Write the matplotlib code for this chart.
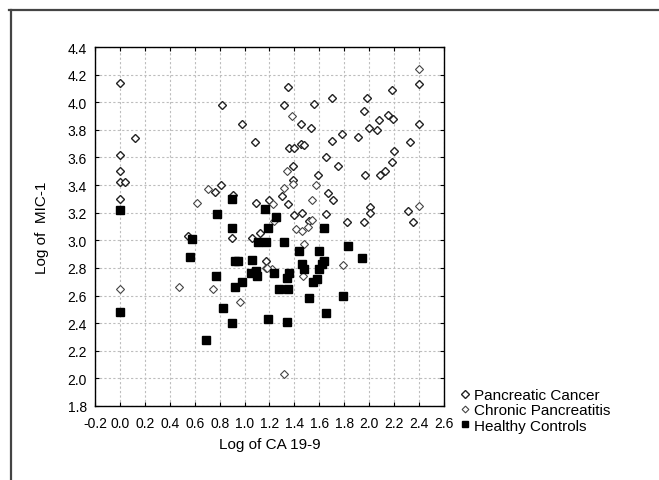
import matplotlib
matplotlib.use("Agg")
import matplotlib.pyplot as plt
from matplotlib.lines import Line2D

plt.rcParams['font.family'] = ['Liberation Sans', 'DejaVu Sans']

# Pancreatic Cancer (log CA 19-9, log MIC-1)
cancer_x = [0.00, 0.82, 0.98, 0.12, 1.08, 0.00, 0.00, 0.00, 0.04, 0.00, 0.76, 0.81, 0.91, 1.09,
            2.40, 1.35, 2.18, 1.70, 1.98, 1.32, 1.56, 1.96, 2.15, 2.19, 2.08, 1.45, 1.53, 2.00,
            2.06, 2.40, 1.78, 1.70, 1.91, 2.33, 2.20, 1.36, 1.40, 1.45, 1.48, 1.65, 1.75, 2.18,
            1.39, 1.97, 2.13, 2.09, 1.59, 1.39, 1.20, 1.30, 1.35, 1.67, 1.71, 1.40, 1.46, 1.52,
            1.65, 1.82, 1.96, 2.01, 2.01, 2.31, 2.35, 0.90, 1.06, 1.12, 1.17, 0.55]
cancer_y = [4.14, 3.98, 3.84, 3.74, 3.71, 3.62, 3.50, 3.42, 3.42, 3.30, 3.35, 3.40, 3.33, 3.27,
            4.13, 4.11, 4.09, 4.03, 4.03, 3.98, 3.99, 3.94, 3.91, 3.88, 3.87, 3.84, 3.81, 3.81,
            3.80, 3.84, 3.77, 3.72, 3.75, 3.71, 3.65, 3.67, 3.67, 3.70, 3.69, 3.60, 3.54, 3.57,
            3.54, 3.47, 3.50, 3.47, 3.47, 3.44, 3.29, 3.32, 3.26, 3.34, 3.29, 3.18, 3.20, 3.14,
            3.19, 3.13, 3.13, 3.24, 3.20, 3.21, 3.13, 3.02, 3.02, 3.05, 2.85, 3.03]

# Chronic Pancreatitis
chronic_x = [0.00, 0.47, 0.75, 0.96, 0.62, 0.71, 1.32, 1.79, 1.47, 1.17, 1.22, 1.41, 1.46,
             1.51, 1.54, 1.34, 1.32, 1.38, 2.40, 1.48, 1.24, 1.57, 1.39, 1.23, 1.54, 1.18, 2.40]
chronic_y = [2.65, 2.66, 2.65, 2.55, 3.27, 3.37, 2.03, 2.82, 2.74, 2.80, 2.79, 3.08, 3.07,
             3.10, 3.29, 3.50, 3.38, 3.90, 4.24, 2.97, 3.14, 3.40, 3.41, 3.26, 3.15, 2.80, 3.25]

# Healthy Controls
healthy_x = [0.00, 0.00, 0.58, 0.56, 0.78, 0.77, 0.69, 0.83, 0.90, 0.90, 0.90, 0.92, 0.95,
             0.98, 0.92, 1.06, 1.05, 1.09, 1.10, 1.11, 1.17, 1.19, 1.16, 1.25, 1.19, 1.24,
             1.28, 1.32, 1.34, 1.36, 1.35, 1.34, 1.44, 1.46, 1.48, 1.52, 1.55, 1.58, 1.60,
             1.60, 1.62, 1.64, 1.64, 1.65, 1.79, 1.83, 1.94]
healthy_y = [3.22, 2.48, 3.01, 2.88, 3.19, 2.74, 2.28, 2.51, 2.40, 3.30, 3.09, 2.85, 2.85,
             2.70, 2.66, 2.86, 2.76, 2.78, 2.74, 2.99, 2.99, 3.09, 3.23, 3.17, 2.43, 2.76,
             2.65, 2.99, 2.73, 2.76, 2.65, 2.41, 2.92, 2.83, 2.79, 2.58, 2.70, 2.72, 2.79,
             2.92, 2.83, 2.85, 3.09, 2.47, 2.60, 2.96, 2.87]

x_ticks = [-0.2, 0.0, 0.2, 0.4, 0.6, 0.8, 1.0, 1.2, 1.4, 1.6, 1.8, 2.0, 2.2, 2.4, 2.6]
y_ticks = [1.8, 2.0, 2.2, 2.4, 2.6, 2.8, 3.0, 3.2, 3.4, 3.6, 3.8, 4.0, 4.2, 4.4]

fig = plt.figure(figsize=(6.59, 4.81), dpi=100)
ax = fig.add_axes([95/659, 1 - 407/481, 349/659, 359/481])

ax.plot(cancer_x, cancer_y, linestyle='none', marker='D', markersize=4.4,
        markerfacecolor='white', markeredgecolor='#222222', markeredgewidth=1.0,
        label='Pancreatic Cancer', zorder=3)
ax.plot(chronic_x, chronic_y, linestyle='none', marker='D', markersize=3.8,
        markerfacecolor='white', markeredgecolor='#444444', markeredgewidth=0.8,
        label='Chronic Pancreatitis', zorder=3)
ax.plot(healthy_x, healthy_y, linestyle='none', marker='s', markersize=5.2,
        markerfacecolor='black', markeredgecolor='black',
        label='Healthy Controls', zorder=4)

ax.set_xlim(-0.2, 2.6)
ax.set_ylim(1.8, 4.4)
ax.set_xticks(x_ticks)
ax.set_yticks(y_ticks)
ax.set_xticklabels([f"{v:.1f}" for v in x_ticks])
ax.set_yticklabels([f"{v:.1f}" for v in y_ticks])
ax.tick_params(direction='in', length=3, width=0.8, labelsize=10,
               top=True, right=True)
ax.tick_params(axis='x', pad=7)
ax.tick_params(axis='y', pad=6)
ax.grid(True, color='#bdbdbd', linestyle=(0, (2, 2)), linewidth=0.8)
ax.set_axisbelow(True)
for s in ax.spines.values():
    s.set_linewidth(1.0)
    s.set_color('black')

ax.set_xlabel('Log of CA 19-9', fontsize=11, labelpad=5)
ax.set_ylabel('Log of  MIC-1', fontsize=11, labelpad=13)

leg = ax.legend(loc='upper left', bbox_to_anchor=(450/659, 1 - 380/481),
                bbox_transform=fig.transFigure, frameon=False, fontsize=11,
                handlelength=0.7, handletextpad=0.3, labelspacing=0.08,
                borderpad=0.1, markerscale=0.9)

# outer frame lines
fig.add_artist(Line2D([9/659, 1.0], [1 - 11/481, 1 - 11/481], color='#444444',
                      linewidth=1.6, transform=fig.transFigure))
fig.add_artist(Line2D([11/659, 11/659], [1 - 11/481, 0.0], color='#444444',
                      linewidth=1.6, transform=fig.transFigure))

fig.savefig('out.png', dpi=100)
